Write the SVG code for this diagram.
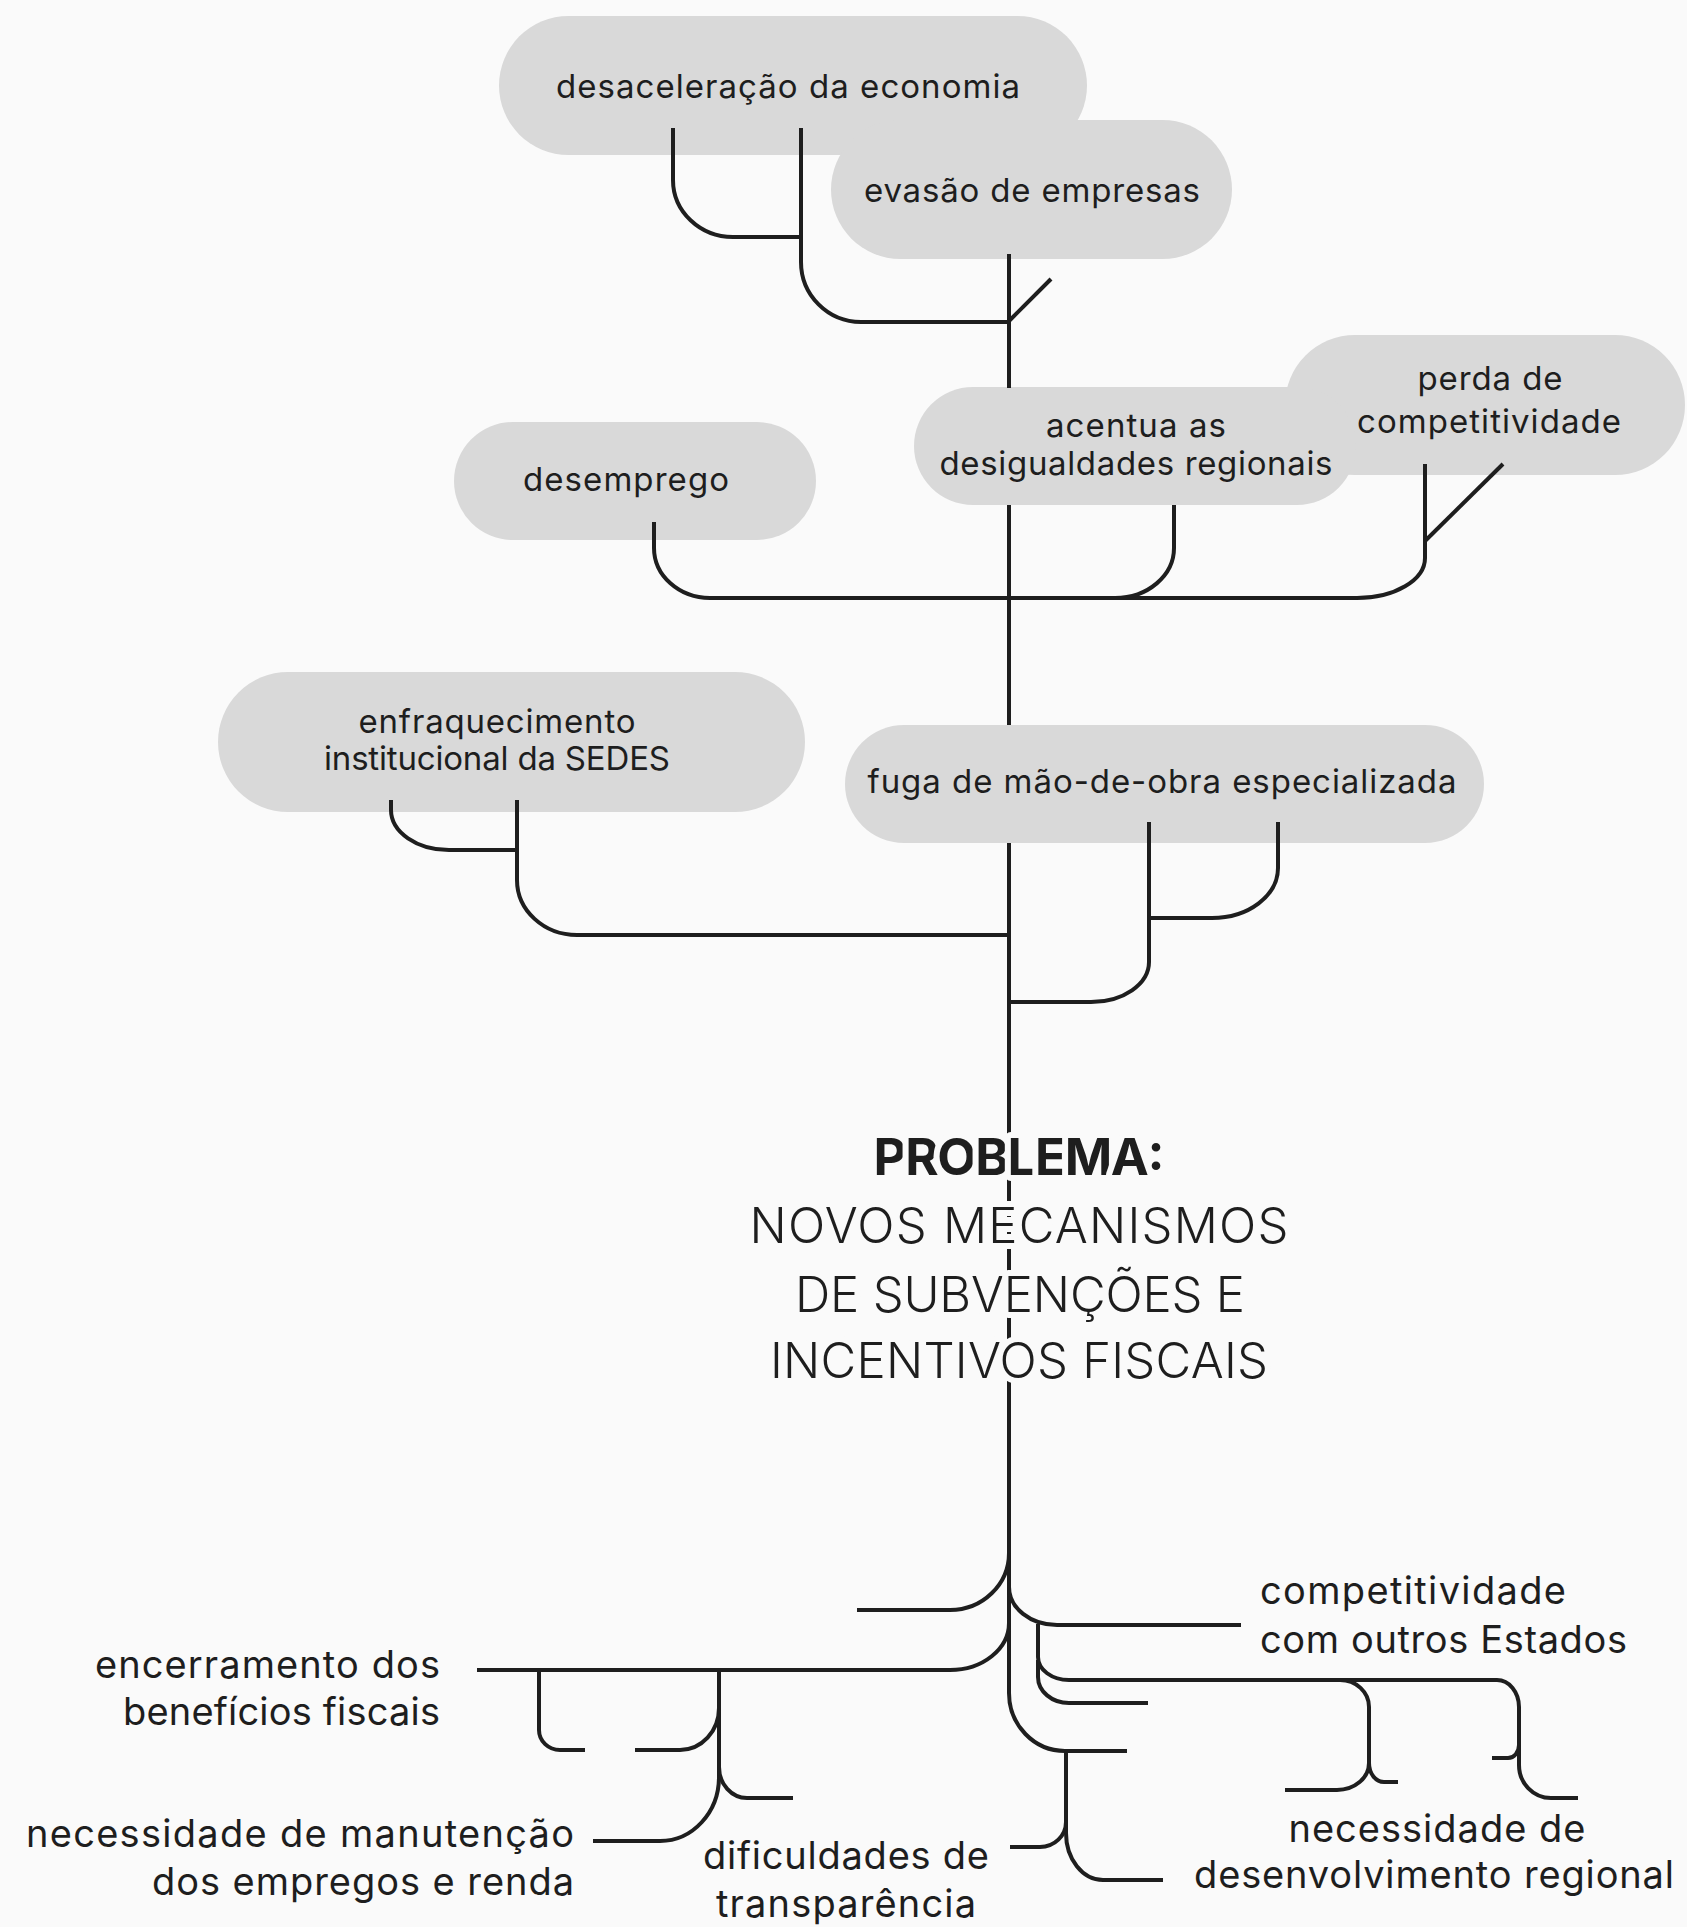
<svg xmlns="http://www.w3.org/2000/svg" width="1687" height="1927" viewBox="0 0 1687 1927">
<style>
.bg{fill:#FAFAFA}
.pill{fill:#D9D9D9}
.t{font-family:Inter,"Open Sans","Noto Sans",sans-serif;fill:#1E1E1E}
.pt{font-size:33px;text-anchor:middle}
.lb{font-size:38px}
.c{fill:none;stroke:#1E1E1E;stroke-width:4}
.halo{stroke:#FAFAFA;stroke-width:12;stroke-linejoin:round;paint-order:stroke}
.tl{font-size:49px;font-weight:300;text-anchor:middle}
</style>
<rect class="bg" x="0" y="0" width="1687" height="1927"/>
<g id="node-desaceleracao">
<rect class="pill" x="499" y="16" width="588" height="139" rx="69.5"/>
<text class="t pt" x="788" y="98" textLength="464">desaceleração da economia</text>
</g>
<g id="node-evasao">
<rect class="pill" x="831" y="120" width="401" height="139" rx="69.5"/>
<text class="t pt" x="1032" y="202" textLength="336">evasão de empresas</text>
</g>
<g id="node-perda">
<rect class="pill" x="1285" y="335" width="400" height="140" rx="70"/>
<text class="t pt" x="1490" y="390" textLength="145">perda de</text>
<text class="t pt" x="1489" y="433" textLength="264">competitividade</text>
</g>
<g id="node-acentua">
<rect class="pill" x="914" y="387" width="442" height="118" rx="59"/>
<text class="t pt" x="1136" y="437" textLength="180">acentua as</text>
<text class="t pt" x="1136" y="475" textLength="393">desigualdades regionais</text>
</g>
<g id="node-desemprego">
<rect class="pill" x="454" y="422" width="362" height="118" rx="59"/>
<text class="t pt" x="626" y="491" textLength="206">desemprego</text>
</g>
<g id="node-enfraquecimento">
<rect class="pill" x="218" y="672" width="587" height="140" rx="70"/>
<text class="t pt" x="497" y="733" textLength="277">enfraquecimento</text>
<text class="t pt" x="497" y="770" textLength="346">institucional da SEDES</text>
</g>
<g id="node-fuga">
<rect class="pill" x="845" y="725" width="639" height="118" rx="59"/>
<text class="t pt" x="1162" y="793" textLength="589">fuga de mão-de-obra especializada</text>
</g>
<g id="connectors">
<path class="c" d="M673,128 V180 A60,57 0 0 0 733,237 H801"/>
<path class="c" d="M801,128 V262 A60,60 0 0 0 861,322 H1009"/>
<path class="c" d="M1009,254 V388"/>
<path class="c" d="M1009,321 L1051,279"/>
<path class="c" d="M654,522 V548 A56,50 0 0 0 710,598 H1357 A68,40 0 0 0 1425,558 V464"/>
<path class="c" d="M1174,505 V548 A59,50 0 0 1 1115,598 H1100"/>
<path class="c" d="M1503,464 L1425,541"/>
<path class="c" d="M1009,505 V725"/>
<path class="c" d="M391,800 V810 A58,40 0 0 0 449,850 H517"/>
<path class="c" d="M517,800 V880 A60,55 0 0 0 577,935 H1009"/>
<path class="c" d="M1149,822 V962 A58,40 0 0 1 1091,1002 H1009"/>
<path class="c" d="M1278,822 V868 A66,50 0 0 1 1212,918 H1149"/>
<path class="c" d="M1009,843 V1693 A56,58 0 0 0 1065,1751 H1127"/>
<path class="c" d="M857,1610 H950 A59,57 0 0 0 1009,1553"/>
<path class="c" d="M477,1670 H950 A59,47 0 0 0 1009,1623"/>
<path class="c" d="M1009,1587 A48,38 0 0 0 1057,1625 H1241"/>
<path class="c" d="M1038,1624 V1657 A31,23 0 0 0 1069,1680 H1497 A22,27 0 0 1 1519,1707 V1765 A32,33 0 0 0 1551,1798 H1578"/>
<path class="c" d="M1038,1660 V1677 A31,26 0 0 0 1069,1703 H1148"/>
<path class="c" d="M1519,1745 A11,13 0 0 1 1508,1758 H1492"/>
<path class="c" d="M1340,1680 A29,27 0 0 1 1369,1707 V1763 A32,27 0 0 1 1337,1790 H1285"/>
<path class="c" d="M1369,1763 A15,19 0 0 0 1384,1782 H1398"/>
<path class="c" d="M1066,1751 V1822 A26,25 0 0 1 1040,1847 H1010"/>
<path class="c" d="M1066,1822 V1833 A37,47 0 0 0 1103,1880 H1163"/>
<path class="c" d="M539,1670 V1730 A21,20 0 0 0 560,1750 H585"/>
<path class="c" d="M719,1670 V1777 A59,64 0 0 1 660,1841 H593"/>
<path class="c" d="M719,1708 A39,42 0 0 1 680,1750 H635"/>
<path class="c" d="M719,1767 A28,31 0 0 0 747,1798 H793"/>
</g>
<g id="node-problema">
<text class="t halo" x="1019" y="1175" font-size="51" font-weight="700" text-anchor="middle" textLength="291">PROBLEMA:</text>
<text class="t halo tl" x="1019" y="1243" textLength="539">NOVOS MECANISMOS</text>
<text class="t halo tl" x="1020" y="1312" textLength="450">DE SUBVENÇÕES E</text>
<text class="t halo tl" x="1019" y="1378" textLength="498">INCENTIVOS FISCAIS</text>
</g>
<g id="label-competitividade">
<text class="t lb" x="1260" y="1604" textLength="306">competitividade</text>
<text class="t lb" x="1260" y="1653" textLength="367">com outros Estados</text>
</g>
<g id="label-encerramento">
<text class="t lb" x="440" y="1678" text-anchor="end" textLength="345">encerramento dos</text>
<text class="t lb" x="440" y="1725" text-anchor="end" textLength="317">benefícios fiscais</text>
</g>
<g id="label-manutencao">
<text class="t lb" x="574" y="1847" text-anchor="end" textLength="548">necessidade de manutenção</text>
<text class="t lb" x="574" y="1895" text-anchor="end" textLength="422">dos empregos e renda</text>
</g>
<g id="label-transparencia">
<text class="t lb" x="846" y="1869" text-anchor="middle" textLength="286">dificuldades de</text>
<text class="t lb" x="846" y="1917" text-anchor="middle" textLength="260">transparência</text>
</g>
<g id="label-desenvolvimento">
<text class="t lb" x="1437" y="1842" text-anchor="middle" textLength="297">necessidade de</text>
<text class="t lb" x="1434" y="1888" text-anchor="middle" textLength="480">desenvolvimento regional</text>
</g>
</svg>
